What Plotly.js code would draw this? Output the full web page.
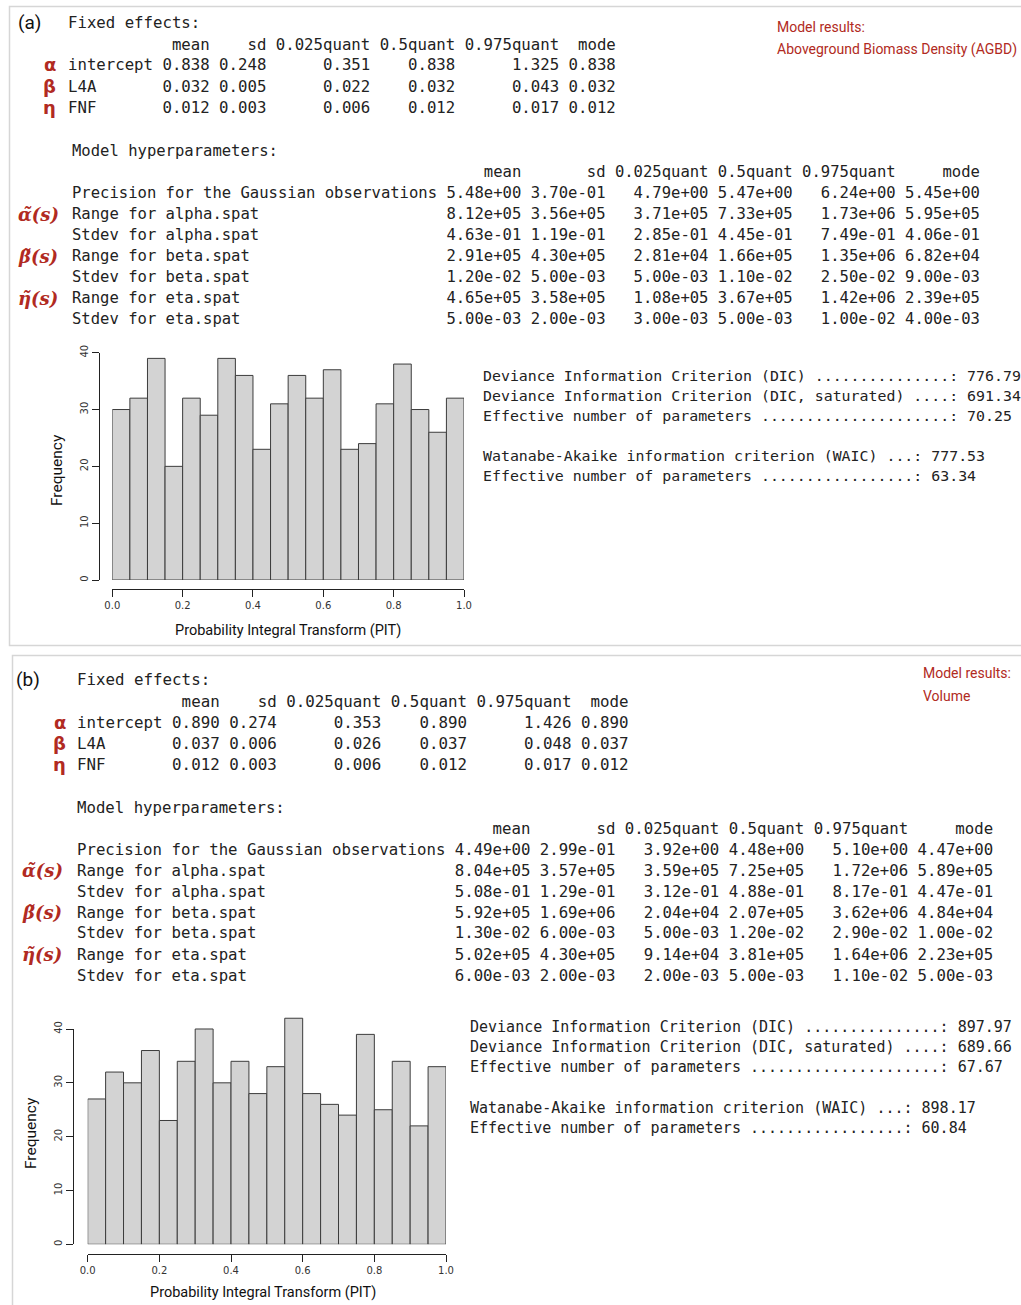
<!DOCTYPE html>
<html>
<head>
<meta charset="utf-8">
<script src="https://cdn.plot.ly/plotly-3.0.1.min.js"></script>
<style>html,body{margin:0;padding:0;background:#fff;}#chart{width:1021px;height:1305px;}</style>
</head>
<body>
<div id="chart"></div>
<script>
// ---------------- DATA ----------------
const binCenters = [0.025,0.075,0.125,0.175,0.225,0.275,0.325,0.375,0.425,0.475,0.525,0.575,0.625,0.675,0.725,0.775,0.825,0.875,0.925,0.975];
const binWidth = 0.05;
const pitCountsAGBD   = [30,32,39,20,32,29,39,36,23,31,36,32,37,23,24,31,38,30,26,32];
const pitCountsVolume = [27,32,30,36,23,34,40,30,34,28,33,42,28,26,24,39,25,34,22,33];
const xTickVals = [0,0.2,0.4,0.6,0.8,1.0];
const xTickText = ['0.0','0.2','0.4','0.6','0.8','1.0'];
const yTickVals = [0,10,20,30,40];

const fixedCols = ['mean','sd','0.025quant','0.5quant','0.975quant','mode'];
const fixedRows = ['intercept','L4A','FNF'];
const fixedGreek = ['α','β','η'];
const fixedAGBD = [
  ['0.838','0.248','0.351','0.838','1.325','0.838'],
  ['0.032','0.005','0.022','0.032','0.043','0.032'],
  ['0.012','0.003','0.006','0.012','0.017','0.012']];
const fixedVolume = [
  ['0.890','0.274','0.353','0.890','1.426','0.890'],
  ['0.037','0.006','0.026','0.037','0.048','0.037'],
  ['0.012','0.003','0.006','0.012','0.017','0.012']];

const hyperCols = ['mean','sd','0.025quant','0.5quant','0.975quant','mode'];
const hyperRows = ['Precision for the Gaussian observations','Range for alpha.spat','Stdev for alpha.spat',
  'Range for beta.spat','Stdev for beta.spat','Range for eta.spat','Stdev for eta.spat'];
const hyperGreek = ['', 'α\u0303(s)', '', 'β\u0303(s)', '', 'η\u0303(s)', ''];
const hyperAGBD = [
  ['5.48e+00','3.70e-01','4.79e+00','5.47e+00','6.24e+00','5.45e+00'],
  ['8.12e+05','3.56e+05','3.71e+05','7.33e+05','1.73e+06','5.95e+05'],
  ['4.63e-01','1.19e-01','2.85e-01','4.45e-01','7.49e-01','4.06e-01'],
  ['2.91e+05','4.30e+05','2.81e+04','1.66e+05','1.35e+06','6.82e+04'],
  ['1.20e-02','5.00e-03','5.00e-03','1.10e-02','2.50e-02','9.00e-03'],
  ['4.65e+05','3.58e+05','1.08e+05','3.67e+05','1.42e+06','2.39e+05'],
  ['5.00e-03','2.00e-03','3.00e-03','5.00e-03','1.00e-02','4.00e-03']];
const hyperVolume = [
  ['4.49e+00','2.99e-01','3.92e+00','4.48e+00','5.10e+00','4.47e+00'],
  ['8.04e+05','3.57e+05','3.59e+05','7.25e+05','1.72e+06','5.89e+05'],
  ['5.08e-01','1.29e-01','3.12e-01','4.88e-01','8.17e-01','4.47e-01'],
  ['5.92e+05','1.69e+06','2.04e+04','2.07e+05','3.62e+06','4.84e+04'],
  ['1.30e-02','6.00e-03','5.00e-03','1.20e-02','2.90e-02','1.00e-02'],
  ['5.02e+05','4.30e+05','9.14e+04','3.81e+05','1.64e+06','2.23e+05'],
  ['6.00e-03','2.00e-03','2.00e-03','5.00e-03','1.10e-02','5.00e-03']];

const icLabels = [
  'Deviance Information Criterion (DIC) ...............: ',
  'Deviance Information Criterion (DIC, saturated) ....: ',
  'Effective number of parameters .....................: ',
  'Watanabe-Akaike information criterion (WAIC) ...: ',
  'Effective number of parameters .................: '];
const icAGBD   = ['776.79','691.34','70.25','777.53','63.34'];
const icVolume = ['897.97','689.66','67.67','898.17','60.84'];

const titleAGBD = ['Model results:','Aboveground Biomass Density (AGBD)'];
const titleVolume = ['Model results:','Volume'];

// ---------------- HELPERS ----------------
const W = 1021, H = 1305;
const px = x => x / W;
const py = y => 1 - y / H;
const RED = '#b12a22';
const TXT = '#222222';
const MONO = 'DejaVu Sans Mono, Liberation Mono, monospace';
const COND = 'Roboto, Liberation Sans, sans-serif';
const nb = s => s.replace(/ /g, '\u00A0');

function tableLines(rows, cols, data) {
  const rowW = Math.max(...rows.map(r => r.length));
  const colW = cols.map((c, j) => Math.max(c.length, ...data.map(d => d[j].length)));
  const header = ' '.repeat(rowW) + cols.map((c, j) => ' ' + c.padStart(colW[j])).join('');
  const lines = rows.map((r, i) => r.padEnd(rowW) + data[i].map((v, j) => ' ' + v.padStart(colW[j])).join(''));
  return [header].concat(lines);
}

const annotations = [];
function txt(x, y, text, size, opts) {
  opts = opts || {};
  annotations.push({
    xref: 'paper', yref: 'paper', x: px(x), y: py(y), text: text,
    showarrow: false, xanchor: opts.xanchor || 'left', yanchor: 'middle',
    textangle: opts.angle || 0, borderpad: 0,
    font: {family: opts.family || MONO, size: size, color: opts.color || TXT}
  });
}

function panel(cfg) {
  txt(cfg.labX, cfg.labY, cfg.label, 19, {family: COND, color: '#111'});
  // fixed effects
  txt(cfg.fx, cfg.fy0 - cfg.fdy, nb('Fixed effects:'), cfg.fSize);
  const fl = tableLines(fixedRows, fixedCols, cfg.fixed);
  fl.forEach((l, i) => txt(cfg.fx, cfg.fy0 + i * cfg.fdy, nb(l), cfg.fSize));
  fixedGreek.forEach((g, i) => txt(cfg.gfx, cfg.fy0 + (i + 1) * cfg.fdy, '<b>' + g + '</b>', 18,
    {family: 'DejaVu Sans, sans-serif', color: RED, xanchor: 'right'}));
  // hyperparameters
  txt(cfg.hx, cfg.hy0 - cfg.hdy, nb('Model hyperparameters:'), cfg.hSize);
  const hl = tableLines(hyperRows, hyperCols, cfg.hyper);
  hl.forEach((l, i) => txt(cfg.hx, cfg.hy0 + i * cfg.hdy, nb(l), cfg.hSize));
  hyperGreek.forEach((g, i) => { if (g) txt(cfg.ghx, cfg.hy0 + (i + 1) * cfg.hdy, '<b><i>' + g + '</i></b>', 18,
    {family: 'DejaVu Serif, Liberation Serif, serif', color: RED}); });
  // information criteria
  cfg.icY.forEach((y, i) => txt(cfg.icX, y, nb(icLabels[i] + cfg.ic[i]), cfg.icSize));
  // red titles
  cfg.title.forEach((t, i) => txt(cfg.tX, cfg.tY[i], t, 14, {family: COND, color: RED}));
  // axis labels
  txt(cfg.freqX, cfg.freqY, 'Frequency', 15.5, {family: COND, color: '#111', angle: -90, xanchor: 'center'});
  txt(cfg.pitX, cfg.pitY, 'Probability Integral Transform (PIT)', 14.5, {family: COND, color: '#111', xanchor: 'center'});
}

panel({label: '(a)', labX: 17, labY: 23,
  fixed: fixedAGBD, fx: 67, fy0: 44, fdy: 21, fSize: 15.7, gfx: 57,
  hyper: hyperAGBD, hx: 71, hy0: 172, hdy: 21, hSize: 15.55, ghx: 17,
  ic: icAGBD, icX: 482, icY: [376, 396, 416, 456, 476], icSize: 14.9,
  title: titleAGBD, tX: 776, tY: [27, 49],
  freqX: 57, freqY: 470, pitX: 288, pitY: 630});
panel({label: '(b)', labX: 15, labY: 679,
  fixed: fixedVolume, fx: 76, fy0: 701, fdy: 21, fSize: 15.8, gfx: 67,
  hyper: hyperVolume, hx: 76, hy0: 828, hdy: 21, hSize: 15.7, ghx: 21,
  ic: icVolume, icX: 469, icY: [1027, 1047, 1067, 1108, 1128], icSize: 15.0,
  title: titleVolume, tX: 922, tY: [673, 696],
  freqX: 31, freqY: 1133, pitX: 263, pitY: 1292});

// ---------------- HISTOGRAMS ----------------
const barStyle = {color: '#d3d3d3', line: {color: '#3c3c3c', width: 1}};
const traces = [
  {type: 'bar', x: binCenters, y: pitCountsAGBD, width: binWidth, marker: barStyle,
   xaxis: 'x', yaxis: 'y', hoverinfo: 'x+y', showlegend: false},
  {type: 'bar', x: binCenters, y: pitCountsVolume, width: binWidth, marker: barStyle,
   xaxis: 'x2', yaxis: 'y2', hoverinfo: 'x+y', showlegend: false},
  {type: 'scatter', x: [], y: [], xaxis: 'x2', yaxis: 'y3', showlegend: false, hoverinfo: 'skip'}
];

const tickFont = {family: 'DejaVu Sans, Liberation Sans, sans-serif', size: 10, color: '#333'};
function xAx(x0, x1, yLine) {
  return {domain: [px(x0), px(x1)], range: [0, 1], anchor: 'free', position: py(yLine),
    showline: true, linecolor: '#222', linewidth: 1, ticks: 'outside', ticklen: 7, tickcolor: '#222',
    tickvals: xTickVals, ticktext: xTickText, tickfont: tickFont, showgrid: false, zeroline: false, fixedrange: true};
}
function yAx(yBottom, pxPerUnit, maxV, xLine, visible) {
  const top = yBottom - maxV * pxPerUnit;
  return {domain: [py(yBottom), py(top)], range: [0, maxV], anchor: 'free', position: px(xLine),
    visible: visible, showline: true, linecolor: '#222', linewidth: 1, ticks: 'outside', ticklen: 7, tickcolor: '#222',
    tickvals: yTickVals, tickangle: -90, tickfont: tickFont, showgrid: false, zeroline: false, fixedrange: true};
}
const pa = (580 - 352.7) / 40;
const pb = (1244.3 - 1029) / 40;

const layout = {
  width: W, height: H, margin: {l: 0, r: 0, t: 0, b: 0},
  paper_bgcolor: '#ffffff', plot_bgcolor: 'rgba(0,0,0,0)',
  bargap: 0, showlegend: false,
  xaxis: xAx(112.3, 464, 589.3),
  yaxis: yAx(580, pa, 40, 99.3, true),
  xaxis2: xAx(87.7, 446, 1254.3),
  yaxis2: yAx(1244.3, pb, 44, 72.7, false),
  yaxis3: yAx(1244.3, pb, 40, 72.7, true),
  annotations: annotations,
  shapes: [
    {type: 'rect', xref: 'paper', yref: 'paper', x0: px(9.5), x1: px(1030), y0: py(6.5), y1: py(645.5),
     line: {color: '#d6d6d6', width: 1.5}, fillcolor: 'rgba(0,0,0,0)', layer: 'below'},
    {type: 'rect', xref: 'paper', yref: 'paper', x0: px(12.5), x1: px(1030), y0: py(655.5), y1: py(1315),
     line: {color: '#d6d6d6', width: 1.5}, fillcolor: 'rgba(0,0,0,0)', layer: 'below'}
  ]
};

Plotly.newPlot('chart', traces, layout, {displayModeBar: false, staticPlot: true});
</script>
</body>
</html>
